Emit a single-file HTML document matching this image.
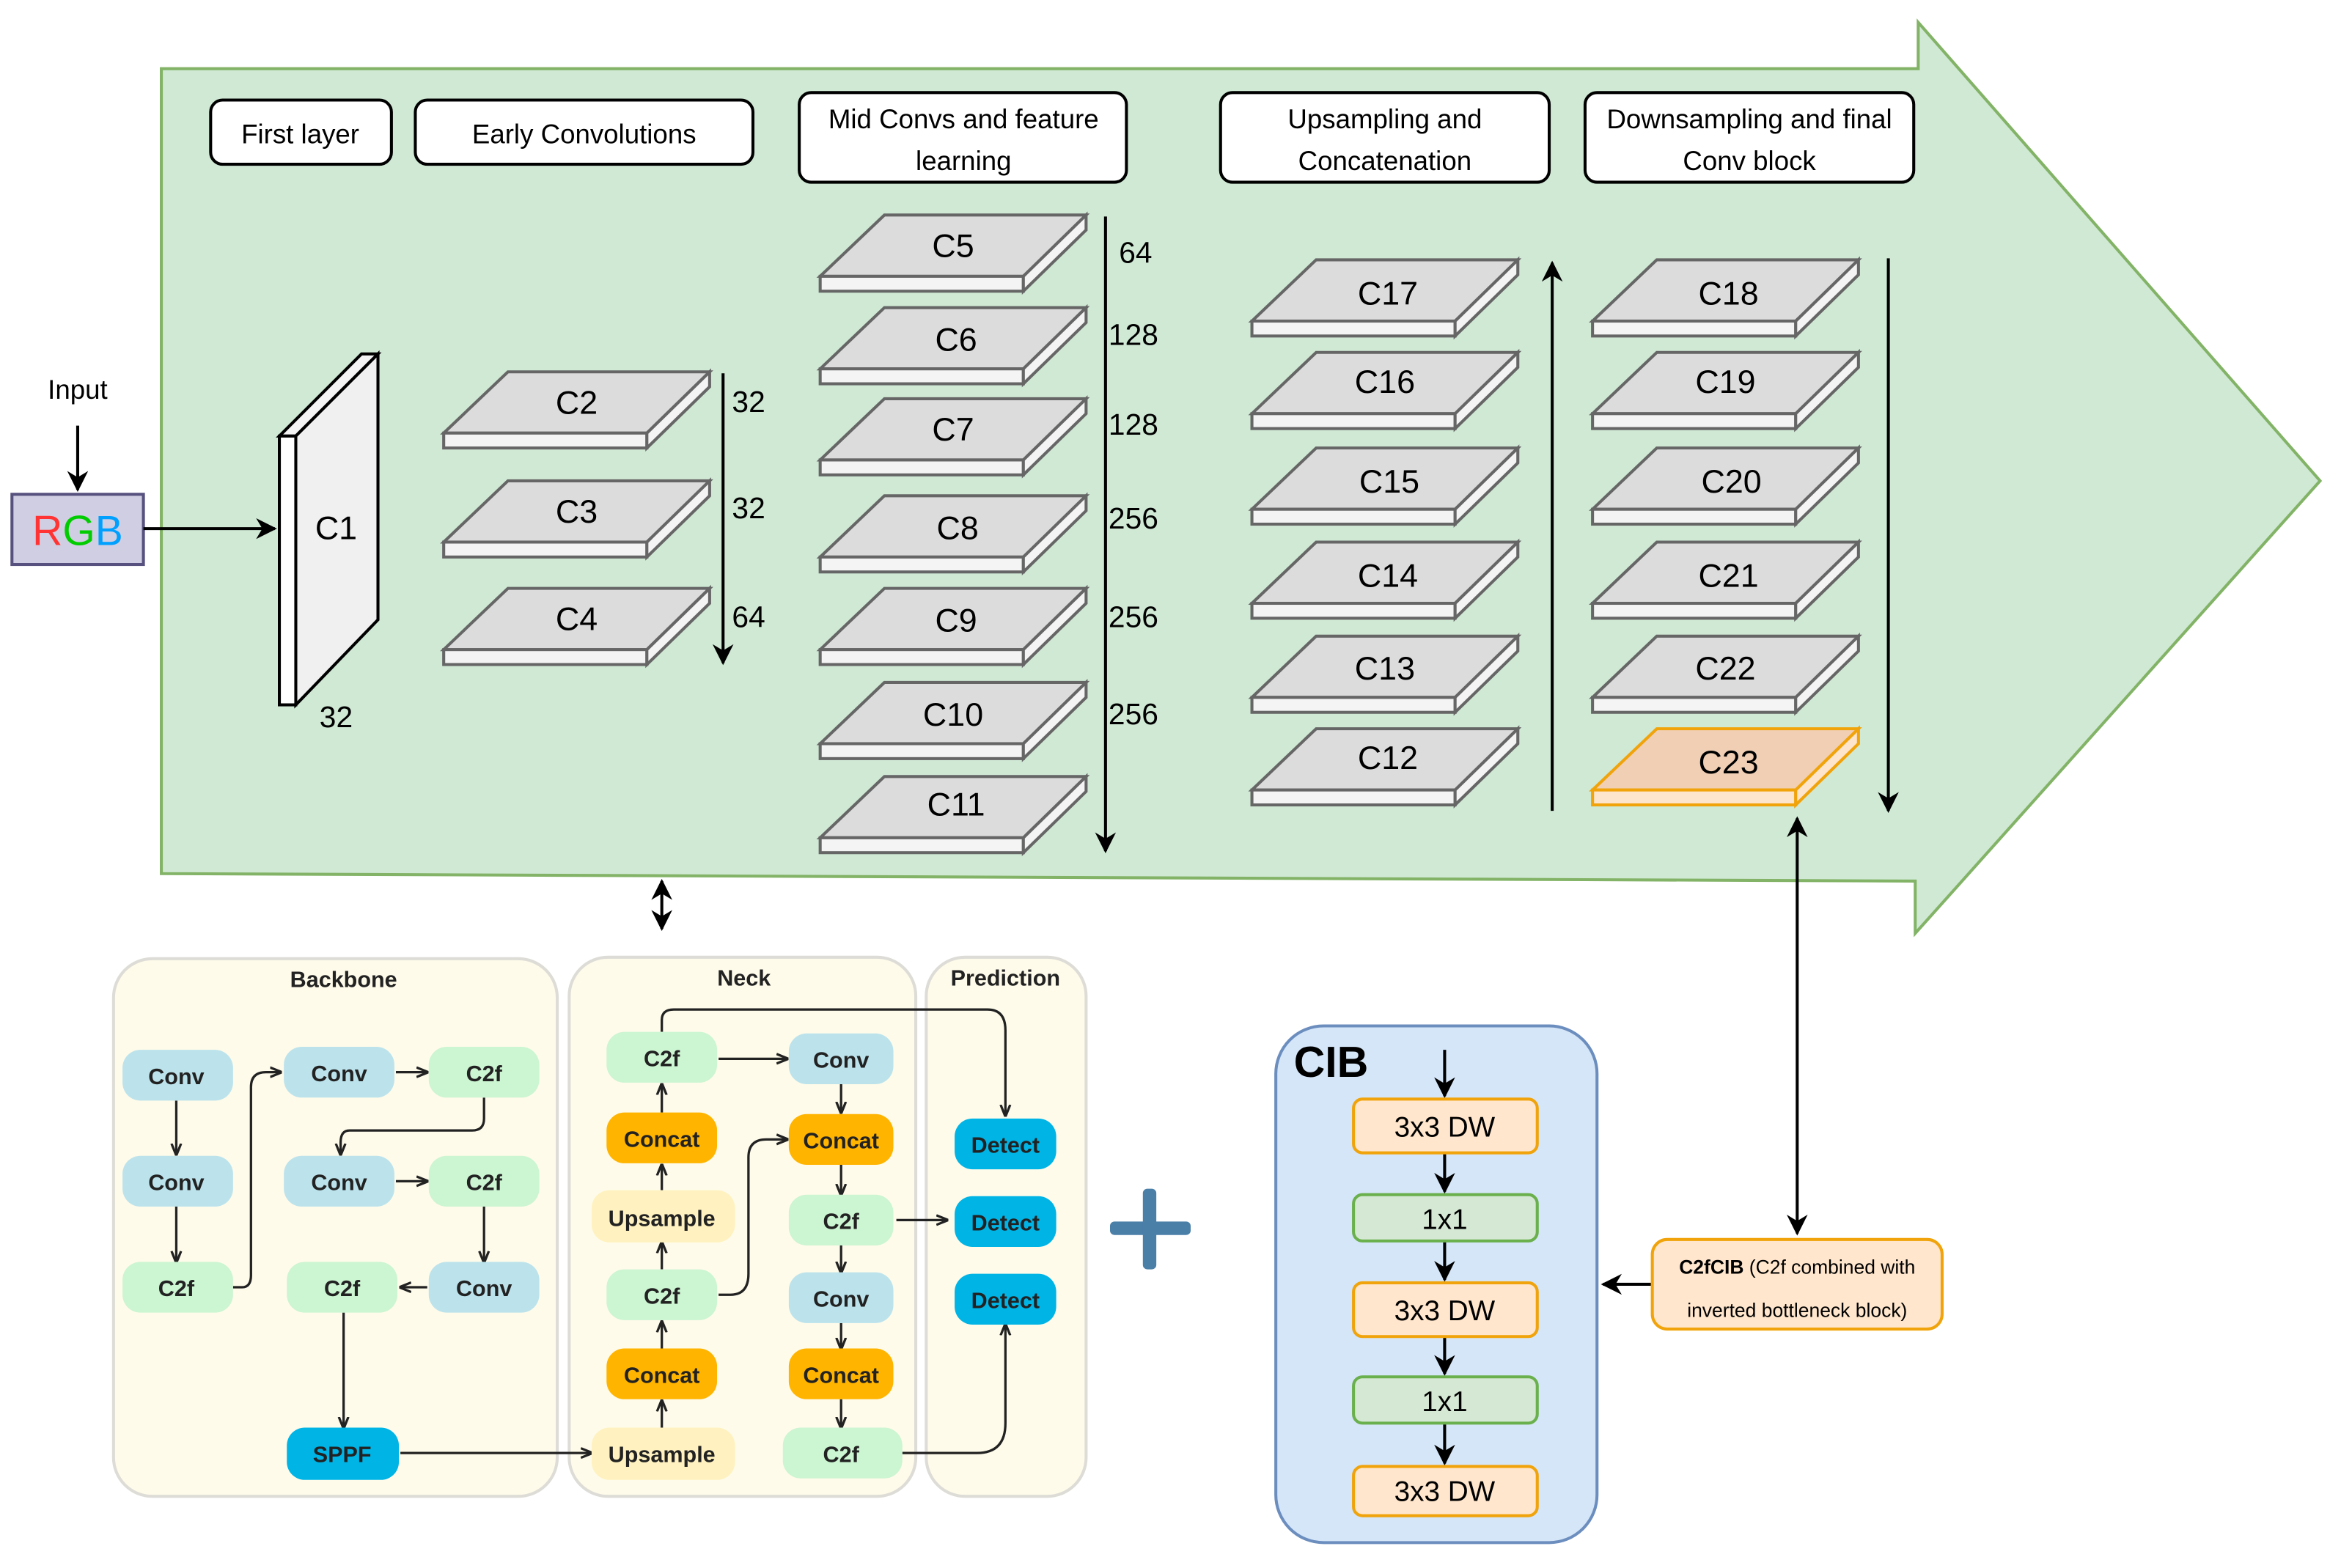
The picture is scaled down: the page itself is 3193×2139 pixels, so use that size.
<!DOCTYPE html>
<html><head><meta charset="utf-8"><style>html,body{margin:0;padding:0;background:#fff}svg{display:block}</style></head>
<body>
<svg width="3193" height="2139" viewBox="0 0 1567 1050" preserveAspectRatio="none" xmlns="http://www.w3.org/2000/svg" font-family="Liberation Sans, sans-serif">
<defs>
<g id="slab">
<polygon points="43,0 178,0 136,41 0,41" fill="#dcdcdc" stroke="#666" stroke-width="2"/>
<rect x="0" y="41" width="136" height="10" fill="#f4f4f4" stroke="#666" stroke-width="2"/>
<polygon points="136,41 178,0 178,10 136,51" fill="#f4f4f4" stroke="#666" stroke-width="2"/>
</g>
<g id="slabo">
<polygon points="43,0 178,0 136,41 0,41" fill="#f0cfb4" stroke="#f0a30a" stroke-width="2"/>
<rect x="0" y="41" width="136" height="10" fill="#fde4cc" stroke="#f0a30a" stroke-width="2"/>
<polygon points="136,41 178,0 178,10 136,51" fill="#fde4cc" stroke="#f0a30a" stroke-width="2"/>
</g>
<marker id="ah" viewBox="0 0 10 10" refX="9" refY="5" markerWidth="7" markerHeight="7" orient="auto-start-reverse"><path d="M0,0 L10,5 L0,10 L3,5 z" fill="#000"/></marker>
<marker id="as" viewBox="0 0 10 10" refX="9" refY="5" markerWidth="5" markerHeight="5" orient="auto-start-reverse"><path d="M0,1 L10,5 L0,9" fill="none" stroke="#222" stroke-width="2"/></marker>
</defs>

<polygon points="108,46 1284,46 1284,15 1553,322 1282,625 1282,590 108,585" fill="#d0e9d5" stroke="#82b366" stroke-width="2"/>

<g fill="#fff" stroke="#000" stroke-width="2">
<rect x="141" y="67" width="121" height="43" rx="8"/>
<rect x="278" y="67" width="226" height="43" rx="8"/>
<rect x="535" y="62" width="219" height="60" rx="8"/>
<rect x="817" y="62" width="220" height="60" rx="8"/>
<rect x="1061" y="62" width="220" height="60" rx="8"/>
</g>
<g font-size="18" text-anchor="middle" fill="#000">
<text x="201" y="96">First layer</text>
<text x="391" y="96">Early Convolutions</text>
<text x="645" y="86">Mid Convs and feature</text><text x="645" y="114">learning</text>
<text x="927" y="86">Upsampling and</text><text x="927" y="114">Concatenation</text>
<text x="1171" y="86">Downsampling and final</text><text x="1171" y="114">Conv block</text>
</g>

<text x="52" y="267" font-size="18" text-anchor="middle">Input</text>
<line x1="52" y1="285" x2="52" y2="328" stroke="#000" stroke-width="2" marker-end="url(#ah)"/>
<rect x="8" y="331" width="88" height="47" fill="#d0cee2" stroke="#56517e" stroke-width="2"/>
<text x="52" y="365" font-size="28" text-anchor="middle"><tspan fill="#ff3333">R</tspan><tspan fill="#00cc00">G</tspan><tspan fill="#00a0ff">B</tspan></text>
<line x1="96" y1="354" x2="184" y2="354" stroke="#000" stroke-width="2" marker-end="url(#ah)"/>

<polygon points="187,292 242,237 253,237 198,292" fill="#f4f4f4" stroke="#000" stroke-width="2"/>
<polygon points="198,292 253,237 253,415 198,472" fill="#f0f0f0" stroke="#000" stroke-width="2"/>
<rect x="187" y="292" width="11" height="180" fill="#fff" stroke="#000" stroke-width="2"/>
<text x="225" y="361" font-size="22" text-anchor="middle">C1</text>
<text x="225" y="487" font-size="20" text-anchor="middle">32</text>

<g font-size="22" text-anchor="middle">
<use href="#slab" x="297" y="249"/><text x="386" y="277">C2</text>
<use href="#slab" x="297" y="322"/><text x="386" y="350">C3</text>
<use href="#slab" x="297" y="394"/><text x="386" y="422">C4</text>
<use href="#slab" x="549" y="144"/><text x="638" y="172">C5</text>
<use href="#slab" x="549" y="206"/><text x="640" y="235">C6</text>
<use href="#slab" x="549" y="267"/><text x="638" y="295">C7</text>
<use href="#slab" x="549" y="332"/><text x="641" y="361">C8</text>
<use href="#slab" x="549" y="394"/><text x="640" y="423">C9</text>
<use href="#slab" x="549" y="457"/><text x="638" y="486">C10</text>
<use href="#slab" x="549" y="520"/><text x="640" y="546">C11</text>
<use href="#slab" x="838" y="174"/><text x="929" y="204">C17</text>
<use href="#slab" x="838" y="236"/><text x="927" y="263">C16</text>
<use href="#slab" x="838" y="300"/><text x="930" y="330">C15</text>
<use href="#slab" x="838" y="363"/><text x="929" y="393">C14</text>
<use href="#slab" x="838" y="426"/><text x="927" y="455">C13</text>
<use href="#slab" x="838" y="488"/><text x="929" y="515">C12</text>
<use href="#slab" x="1066" y="174"/><text x="1157" y="204">C18</text>
<use href="#slab" x="1066" y="236"/><text x="1155" y="263">C19</text>
<use href="#slab" x="1066" y="300"/><text x="1159" y="330">C20</text>
<use href="#slab" x="1066" y="363"/><text x="1157" y="393">C21</text>
<use href="#slab" x="1066" y="426"/><text x="1155" y="455">C22</text>
<use href="#slabo" x="1066" y="488"/><text x="1157" y="518">C23</text>
</g>

<g stroke="#000" stroke-width="2">
<line x1="484" y1="250" x2="484" y2="444" marker-end="url(#ah)"/>
<line x1="740" y1="145" x2="740" y2="570" marker-end="url(#ah)"/>
<line x1="1039" y1="543" x2="1039" y2="176" marker-end="url(#ah)"/>
<line x1="1264" y1="173" x2="1264" y2="543" marker-end="url(#ah)"/>
<line x1="1203" y1="548" x2="1203" y2="826" marker-start="url(#ah)" marker-end="url(#ah)"/>
<line x1="443" y1="590" x2="443" y2="622" marker-start="url(#ah)" marker-end="url(#ah)"/>
</g>
<g font-size="20" fill="#000">
<text x="490" y="276">32</text><text x="490" y="347">32</text><text x="490" y="420">64</text>
<text x="749" y="176">64</text><text x="742" y="231">128</text><text x="742" y="291">128</text>
<text x="742" y="354">256</text><text x="742" y="420">256</text><text x="742" y="485">256</text>
</g>

<g fill="#fefbea" stroke="#dddcd6" stroke-width="2">
<rect x="76" y="642" width="297" height="360" rx="26"/>
<rect x="381" y="641" width="232" height="361" rx="26"/>
<rect x="620" y="641" width="107" height="361" rx="26"/>
</g>
<g font-size="15" font-weight="bold" text-anchor="middle" fill="#222">
<text x="230" y="661">Backbone</text><text x="498" y="660">Neck</text><text x="673" y="660">Prediction</text>
</g>

<g stroke="#222" stroke-width="1.6" fill="none" marker-end="url(#as)">
<line x1="118" y1="737" x2="118" y2="773"/>
<line x1="118" y1="808" x2="118" y2="845"/>
<path d="M156,862 h6 q6,0 6,-8 v-126 q0,-10 10,-10 h10"/>
<line x1="265" y1="718" x2="286" y2="718"/>
<path d="M324,735 v14 q0,8 -8,8 h-82 q-6,0 -6,8 v8"/>
<line x1="265" y1="791" x2="286" y2="791"/>
<line x1="324" y1="808" x2="324" y2="845"/>
<line x1="286" y1="862" x2="268" y2="862"/>
<line x1="230" y1="879" x2="230" y2="956"/>
<line x1="268" y1="973" x2="396" y2="973"/>
<line x1="443" y1="956" x2="443" y2="938"/>
<line x1="443" y1="903" x2="443" y2="885"/>
<line x1="443" y1="850" x2="443" y2="832"/>
<line x1="443" y1="797" x2="443" y2="780"/>
<line x1="443" y1="745" x2="443" y2="726"/>
<path d="M443,691 v-8 q0,-7 8,-7 h210 q12,0 12,14 v57"/>
<line x1="481" y1="709" x2="527" y2="709"/>
<line x1="563" y1="726" x2="563" y2="745"/>
<path d="M481,867 h8 q12,0 12,-14 v-78 q0,-12 12,-12 h14"/>
<line x1="563" y1="780" x2="563" y2="800"/>
<line x1="600" y1="817" x2="634" y2="817"/>
<line x1="563" y1="834" x2="563" y2="852"/>
<line x1="563" y1="886" x2="563" y2="903"/>
<line x1="563" y1="937" x2="563" y2="956"/>
<path d="M604,973 h50 q19,0 19,-20 v-66"/>
</g>

<g font-size="15" font-weight="bold" text-anchor="middle" fill="#222">
<g fill="#bce3ec"><rect x="82" y="703" width="74" height="34" rx="12"/><rect x="82" y="774" width="74" height="34" rx="12"/><rect x="190" y="701" width="74" height="34" rx="12"/><rect x="190" y="774" width="74" height="34" rx="12"/><rect x="287" y="845" width="74" height="34" rx="12"/><rect x="528" y="692" width="70" height="34" rx="12"/><rect x="528" y="852" width="70" height="34" rx="12"/></g>
<g fill="#ccf5d2"><rect x="82" y="845" width="74" height="34" rx="12"/><rect x="287" y="701" width="74" height="34" rx="12"/><rect x="287" y="774" width="74" height="34" rx="12"/><rect x="192" y="845" width="74" height="34" rx="12"/><rect x="406" y="691" width="74" height="34" rx="12"/><rect x="406" y="850" width="74" height="34" rx="12"/><rect x="528" y="800" width="70" height="34" rx="12"/><rect x="524" y="956" width="80" height="34" rx="12"/></g>
<g fill="#ffb400"><rect x="406" y="745" width="74" height="34" rx="12"/><rect x="406" y="903" width="74" height="34" rx="12"/><rect x="528" y="746" width="70" height="34" rx="12"/><rect x="528" y="903" width="70" height="34" rx="12"/></g>
<g fill="#fff2c0"><rect x="396" y="797" width="96" height="35" rx="12"/><rect x="396" y="956" width="96" height="35" rx="12"/></g>
<g fill="#00b4e6"><rect x="192" y="956" width="75" height="35" rx="12"/><rect x="639" y="749" width="68" height="34" rx="12"/><rect x="639" y="801" width="68" height="34" rx="12"/><rect x="639" y="853" width="68" height="34" rx="12"/></g>
<text x="118" y="726">Conv</text><text x="118" y="797">Conv</text><text x="118" y="868">C2f</text>
<text x="227" y="724">Conv</text><text x="324" y="724">C2f</text>
<text x="227" y="797">Conv</text><text x="324" y="797">C2f</text>
<text x="229" y="868">C2f</text><text x="324" y="868">Conv</text>
<text x="229" y="979">SPPF</text>
<text x="443" y="714">C2f</text><text x="443" y="768">Concat</text><text x="443" y="821">Upsample</text>
<text x="443" y="873">C2f</text><text x="443" y="926">Concat</text><text x="443" y="979">Upsample</text>
<text x="563" y="715">Conv</text><text x="563" y="769">Concat</text><text x="563" y="823">C2f</text>
<text x="563" y="875">Conv</text><text x="563" y="926">Concat</text><text x="563" y="979">C2f</text>
<text x="673" y="772">Detect</text><text x="673" y="824">Detect</text><text x="673" y="876">Detect</text>
</g>

<rect x="743" y="818" width="54" height="9" rx="3" fill="#4a7fa8"/>
<rect x="765" y="796" width="9" height="54" rx="3" fill="#4a7fa8"/>

<rect x="854" y="687" width="215" height="346" rx="32" fill="#d5e6f8" stroke="#6c8ebf" stroke-width="2"/>
<text x="866" y="721" font-size="29" font-weight="bold">CIB</text>
<g stroke="#000" stroke-width="2" marker-end="url(#ah)">
<line x1="967" y1="703" x2="967" y2="734"/>
<line x1="967" y1="772" x2="967" y2="798"/>
<line x1="967" y1="831" x2="967" y2="857"/>
<line x1="967" y1="895" x2="967" y2="920"/>
<line x1="967" y1="953" x2="967" y2="980"/>
<line x1="1106" y1="860" x2="1073" y2="860"/>
</g>
<g stroke-width="2">
<rect x="906" y="736" width="123" height="36" rx="6" fill="#ffe6cc" stroke="#f0a30a"/>
<rect x="906" y="800" width="123" height="31" rx="6" fill="#d5e8d4" stroke="#6ab04c"/>
<rect x="906" y="859" width="123" height="36" rx="6" fill="#ffe6cc" stroke="#f0a30a"/>
<rect x="906" y="922" width="123" height="31" rx="6" fill="#d5e8d4" stroke="#6ab04c"/>
<rect x="906" y="982" width="123" height="33" rx="6" fill="#ffe6cc" stroke="#f0a30a"/>
<rect x="1106" y="830" width="194" height="60" rx="10" fill="#ffe6cc" stroke="#f0a30a"/>
</g>
<g font-size="19" text-anchor="middle">
<text x="967" y="761">3x3 DW</text><text x="967" y="823">1x1</text><text x="967" y="884">3x3 DW</text><text x="967" y="945">1x1</text><text x="967" y="1005">3x3 DW</text>
</g>
<g font-size="13" text-anchor="middle">
<text x="1203" y="853"><tspan font-weight="bold">C2fCIB</tspan> (C2f combined with</text>
<text x="1203" y="882">inverted bottleneck block)</text>
</g>
</svg>
</body></html>
